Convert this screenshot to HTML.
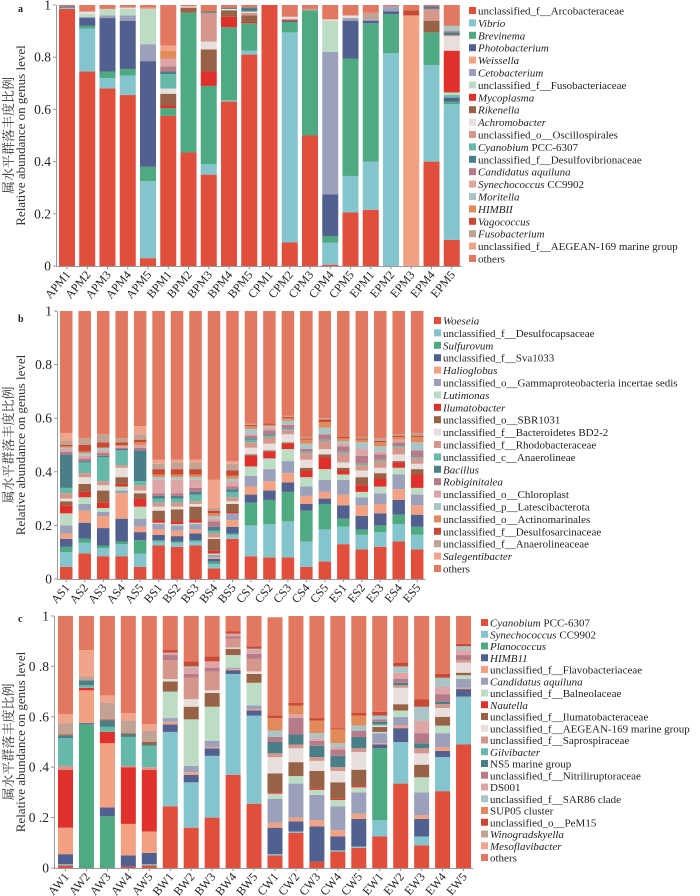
<!DOCTYPE html>
<html><head><meta charset="utf-8"><style>
html,body{margin:0;padding:0;background:#fff;}
svg{display:block;font-family:"Liberation Serif","Noto Serif CJK SC",serif;}
</style></head><body>
<svg id="chart" width="700" height="896" viewBox="0 0 700 896" xmlns="http://www.w3.org/2000/svg"></svg>
<script>
const colors=["#e14e3c","#84c4cc","#4faa82","#52608f","#f2a283","#9ca1bb","#bcdcc4","#e0302c","#976246","#e6dfdc","#d5978b","#66b9a8","#4b7f87","#b67a88","#dda5a5","#a9c5c5","#e38a5a","#c84a34","#c2a292","#f1a48c","#e27860"];
const catsA=["APM1","APM2","APM3","APM4","APM5","BPM1","BPM2","BPM3","BPM4","BPM5","CPM1","CPM2","CPM3","CPM4","CPM5","EPM1","EPM2","EPM3","EPM4","EPM5"];
const catsB=["AS1","AS2","AS3","AS4","AS5","BS1","BS2","BS3","BS4","BS5","CS1","CS2","CS3","CS4","CS5","ES1","ES2","ES3","ES4","ES5"];
const catsC=["AW1","AW2","AW3","AW4","AW5","BW1","BW2","BW3","BW4","BW5","CW1","CW2","CW3","CW4","CW5","EW1","EW2","EW3","EW4","EW5"];
const legendA=["unclassified_f__Arcobacteraceae","<i>Vibrio</i>","<i>Brevinema</i>","<i>Photobacterium</i>","<i>Weissella</i>","<i>Cetobacterium</i>","unclassified_f__Fusobacteriaceae","<i>Mycoplasma</i>","<i>Rikenella</i>","<i>Achromobacter</i>","unclassified_o__Oscillospirales","<i>Cyanobium</i> PCC-6307","unclassified_f__Desulfovibrionaceae","<i>Candidatus aquiluna</i>","<i>Synechococcus</i> CC9902","<i>Moritella</i>","<i>HIMBII</i>","<i>Vagococcus</i>","<i>Fusobacterium</i>","unclassified_f__AEGEAN-169 marine group","others"];
const legendB=["<i>Woeseia</i>","unclassified_f__Desulfocapsaceae","<i>Sulfurovum</i>","unclassified_f__Sva1033","<i>Halioglobus</i>","unclassified_o__Gammaproteobacteria incertae sedis","<i>Lutimonas</i>","<i>Ilumatobacter</i>","unclassified_o__SBR1031","unclassified_f__Bacteroidetes BD2-2","unclassified_f__Rhodobacteraceae","unclassified_c__Anaerolineae","<i>Bacillus</i>","<i>Robiginitalea</i>","unclassified_o__Chloroplast","unclassified_p__Latescibacterota","unclassified_o__Actinomarinales","unclassified_f__Desulfosarcinaceae","unclassified_f__Anaerolineaceae","<i>Salegentibacter</i>","others"];
const legendC=["<i>Cyanobium</i> PCC-6307","<i>Synechococcus</i> CC9902","<i>Planococcus</i>","<i>HIMB11</i>","unclassified_f__Flavobacteriaceae","<i>Candidatus aquiluna</i>","unclassified_f__Balneolaceae","<i>Nautella</i>","unclassified_f__Ilumatobacteraceae","unclassified_f__AEGEAN-169 marine group","unclassified_f__Saprospiraceae","<i>Gilvibacter</i>","NS5 marine group","unclassified_f__Nitriliruptoraceae","DS001","unclassified_f__SAR86 clade","SUP05 cluster","unclassified_o__PeM15","<i>Winogradskyella</i>","<i>Mesoflavibacter</i>","others"];
const ticksAB=["0","0.2","0.4","0.6","0.8","1"];
const ticksC=["0","0 .2","0 .4","0 .6","0 .8","1"];
// per-bar segments: [seriesIndex, value]
const barsA=[
[[0,.985],[1,.005],[3,.005],[20,.005]],
[[0,.745],[1,.165],[2,.01],[3,.03],[5,.005],[6,.01],[9,.01],[20,.025]],
[[0,.68],[1,.04],[2,.025],[3,.205],[5,.01],[6,.025],[20,.015]],
[[0,.655],[1,.075],[2,.025],[3,.185],[5,.02],[6,.025],[9,.005],[20,.01]],
[[0,.03],[1,.295],[2,.055],[3,.405],[5,.065],[6,.135],[4,.005],[20,.01]],
[[0,.575],[2,.03],[7,.01],[8,.045],[9,.02],[11,.055],[12,.01],[13,.02],[14,.03],[16,.03],[19,.02],[20,.155]],
[[0,.435],[2,.535],[8,.02],[9,.005],[20,.005]],
[[0,.35],[1,.04],[2,.3],[7,.055],[8,.085],[9,.03],[10,.11],[12,.005],[20,.025]],
[[0,.63],[1,.005],[2,.28],[7,.04],[8,.025],[9,.005],[12,.005],[20,.01]],
[[0,.81],[1,.015],[2,.105],[7,.005],[8,.025],[10,.01],[9,.005],[12,.015],[20,.01]],
[[0,1]],
[[0,.09],[1,.805],[2,.04],[3,.005],[7,.005],[9,.01],[20,.045]],
[[0,.5],[2,.48],[10,.005],[20,.015]],
[[0,.005],[1,.085],[2,.025],[3,.16],[5,.545],[6,.12],[9,.005],[20,.055]],
[[0,.205],[1,.14],[2,.45],[3,.145],[5,.01],[9,.01],[20,.04]],
[[0,.215],[1,.185],[2,.53],[3,.01],[5,.005],[18,.025],[20,.03]],
[[1,.815],[2,.15],[3,.01],[5,.02],[20,.005]],
[[4,.96],[17,.02],[20,.02]],
[[0,.4],[1,.37],[2,.125],[8,.045],[10,.045],[12,.005],[3,.005],[20,.005]],
[[0,.1],[1,.52],[2,.01],[3,.015],[11,.01],[6,.01],[7,.16],[9,.055],[10,.005],[12,.01],[13,.005],[15,.02],[20,.08]]];
const barsB=[
[[0,.045],[1,.055],[2,.02],[3,.03],[4,.02],[5,.03],[6,.045],[7,.03],[8,.015],[9,.01],[10,.02],[11,.02],[12,.125],[13,.01],[14,.01],[15,.005],[16,.005],[17,.005],[18,.015],[19,.03],[20,.455]],
[[0,.095],[1,.04],[2,.015],[3,.06],[4,.045],[5,.025],[6,.025],[7,.02],[8,.03],[9,.025],[10,.015],[11,.04],[12,.005],[13,.01],[14,.01],[15,.01],[16,.005],[17,.025],[18,.025],[20,.475]],
[[0,.085],[1,.03],[2,.01],[3,.065],[4,.045],[5,.015],[6,.015],[7,.02],[8,.045],[9,.02],[10,.015],[11,.09],[12,.005],[13,.01],[14,.01],[15,.01],[17,.02],[18,.03],[20,.46]],
[[0,.085],[1,.045],[2,.01],[3,.085],[4,.095],[5,.01],[6,.015],[7,.01],[8,.025],[9,.035],[10,.01],[11,.055],[12,.005],[13,.005],[14,.005],[16,.005],[17,.01],[18,.015],[20,.475]],
[[0,.045],[1,.05],[2,.05],[3,.03],[4,.02],[5,.03],[6,.045],[7,.03],[8,.02],[9,.01],[10,.02],[11,.015],[12,.115],[13,.01],[14,.01],[16,.01],[17,.01],[18,.02],[19,.03],[20,.43]],
[[0,.125],[1,.015],[2,.005],[3,.02],[4,.02],[5,.02],[6,.005],[7,.01],[8,.035],[9,.015],[10,.015],[11,.015],[12,.01],[13,.01],[14,.05],[15,.01],[16,.01],[17,.02],[18,.02],[19,.015],[20,.555]],
[[0,.12],[1,.015],[2,.005],[3,.02],[4,.02],[5,.02],[6,.005],[7,.01],[8,.045],[9,.01],[10,.015],[11,.015],[12,.01],[13,.01],[14,.05],[15,.01],[16,.01],[17,.02],[18,.025],[19,.01],[20,.555]],
[[0,.125],[1,.015],[2,.005],[3,.025],[4,.015],[5,.02],[6,.005],[7,.01],[8,.05],[9,.01],[10,.01],[11,.025],[12,.01],[13,.015],[14,.03],[15,.01],[16,.01],[17,.02],[18,.025],[19,.01],[20,.555]],
[[0,.04],[1,.015],[2,.01],[3,.01],[4,.005],[5,.01],[6,.005],[7,.01],[8,.045],[9,.005],[10,.015],[11,.01],[12,.015],[13,.02],[14,.01],[15,.01],[16,.01],[17,.01],[18,.01],[19,.105],[20,.63]],
[[0,.15],[1,.015],[2,.005],[3,.025],[4,.025],[5,.025],[7,.005],[8,.03],[9,.01],[10,.015],[11,.02],[12,.01],[13,.01],[14,.02],[15,.01],[16,.01],[17,.02],[18,.025],[19,.01],[20,.56]],
[[0,.085],[1,.115],[2,.085],[3,.03],[4,.03],[5,.04],[6,.035],[7,.04],[8,.005],[9,.025],[10,.02],[11,.01],[12,.005],[13,.01],[14,.005],[15,.02],[16,.01],[17,.005],[18,.005],[20,.42]],
[[0,.08],[1,.125],[2,.09],[3,.035],[4,.035],[5,.045],[6,.04],[7,.025],[8,.005],[9,.025],[10,.025],[11,.005],[12,.005],[13,.015],[14,.01],[15,.005],[16,.005],[17,.005],[20,.42]],
[[0,.08],[1,.135],[2,.11],[3,.035],[4,.035],[5,.045],[6,.045],[7,.02],[8,.005],[9,.03],[10,.015],[11,.005],[13,.015],[15,.015],[16,.01],[17,.005],[18,.005],[20,.39]],
[[0,.045],[1,.095],[2,.115],[3,.025],[4,.03],[5,.035],[6,.035],[7,.025],[8,.01],[9,.03],[10,.025],[11,.005],[13,.01],[15,.02],[16,.015],[17,.005],[18,.005],[20,.47]],
[[0,.065],[1,.12],[2,.095],[3,.02],[4,.025],[5,.045],[6,.04],[7,.045],[8,.01],[9,.02],[10,.03],[11,.005],[13,.02],[15,.025],[16,.02],[17,.01],[18,.005],[20,.4]],
[[0,.13],[1,.065],[2,.03],[3,.05],[4,.04],[5,.055],[6,.02],[7,.015],[8,.01],[9,.02],[10,.035],[11,.005],[13,.02],[14,.01],[15,.01],[16,.01],[17,.005],[20,.47]],
[[0,.11],[1,.055],[2,.02],[3,.05],[4,.04],[5,.03],[6,.02],[7,.025],[8,.03],[9,.025],[10,.02],[11,.005],[13,.03],[14,.025],[15,.025],[16,.01],[17,.005],[18,.005],[20,.47]],
[[0,.12],[1,.055],[2,.025],[3,.045],[4,.035],[5,.04],[6,.025],[7,.03],[8,.02],[9,.02],[10,.025],[11,.005],[13,.02],[14,.01],[15,.02],[16,.015],[17,.005],[18,.01],[20,.475]],
[[0,.14],[1,.065],[2,.035],[3,.055],[4,.04],[5,.055],[6,.025],[7,.02],[8,.005],[9,.025],[10,.025],[11,.005],[13,.015],[14,.01],[16,.01],[17,.005],[18,.005],[20,.46]],
[[0,.11],[1,.055],[2,.03],[3,.045],[4,.035],[5,.04],[6,.025],[7,.05],[8,.02],[9,.02],[10,.02],[11,.005],[13,.025],[15,.03],[16,.02],[17,.005],[18,.01],[20,.455]]];
const barsC=[
[[0,.01],[1,.005],[3,.04],[4,.105],[7,.23],[10,.015],[11,.11],[12,.01],[8,.005],[18,.045],[19,.035],[20,.39]],
[[2,.57],[3,.005],[4,.13],[7,.01],[11,.01],[12,.02],[18,.015],[19,.105],[20,.135]],
[[2,.205],[3,.035],[4,.255],[7,.045],[11,.02],[12,.025],[8,.005],[10,.005],[18,.06],[19,.03],[20,.315]],
[[0,.005],[3,.045],[4,.125],[7,.225],[10,.005],[11,.115],[12,.01],[8,.005],[18,.05],[19,.03],[20,.385]],
[[0,.01],[1,.005],[3,.045],[4,.085],[7,.245],[10,.01],[11,.085],[12,.005],[8,.01],[18,.045],[19,.025],[20,.43]],
[[0,.245],[1,.295],[3,.03],[4,.01],[5,.015],[6,.105],[8,.04],[9,.01],[10,.075],[13,.02],[14,.01],[17,.01],[20,.135]],
[[0,.16],[1,.18],[3,.03],[4,.01],[5,.025],[6,.185],[8,.05],[9,.03],[10,.085],[13,.015],[14,.025],[15,.005],[17,.02],[20,.18]],
[[0,.2],[1,.245],[3,.03],[4,.005],[5,.025],[6,.135],[8,.055],[9,.01],[10,.075],[13,.015],[14,.025],[17,.02],[20,.16]],
[[0,.37],[1,.4],[3,.015],[4,.005],[5,.005],[6,.05],[8,.025],[9,.005],[10,.035],[13,.01],[14,.01],[17,.01],[20,.06]],
[[0,.255],[1,.35],[3,.02],[4,.005],[5,.015],[6,.09],[8,.035],[9,.01],[10,.05],[13,.02],[14,.015],[15,.005],[17,.01],[20,.12]],
[[0,.05],[1,.005],[3,.105],[4,.02],[5,.095],[6,.02],[7,.005],[8,.075],[9,.065],[10,.015],[12,.045],[13,.02],[15,.025],[16,.05],[17,.01],[20,.39]],
[[0,.14],[1,.005],[3,.04],[4,.015],[5,.135],[6,.03],[8,.055],[9,.055],[10,.015],[12,.04],[13,.065],[14,.015],[16,.035],[17,.01],[20,.345]],
[[0,.025],[3,.14],[4,.025],[5,.1],[6,.02],[7,.005],[8,.07],[9,.04],[10,.015],[12,.045],[13,.02],[14,.01],[15,.02],[16,.05],[17,.01],[20,.405]],
[[0,.065],[1,.005],[3,.055],[4,.025],[5,.095],[6,.025],[7,.005],[8,.065],[9,.045],[10,.015],[12,.045],[13,.025],[14,.01],[15,.015],[16,.055],[17,.005],[20,.445]],
[[0,.08],[1,.005],[3,.11],[4,.02],[5,.085],[6,.02],[7,.005],[8,.065],[9,.07],[10,.015],[12,.045],[13,.025],[15,.02],[16,.04],[17,.01],[20,.385]],
[[0,.125],[1,.065],[2,.285],[3,.015],[4,.005],[5,.04],[6,.005],[8,.02],[9,.005],[11,.005],[12,.01],[13,.01],[15,.015],[17,.015],[20,.38]],
[[0,.335],[1,.165],[3,.055],[4,.01],[5,.035],[6,.025],[8,.025],[9,.065],[10,.01],[12,.01],[13,.015],[14,.025],[15,.025],[17,.015],[20,.185]],
[[0,.09],[1,.035],[3,.07],[4,.015],[5,.09],[6,.06],[8,.05],[9,.045],[10,.02],[12,.02],[13,.04],[14,.05],[15,.055],[17,.03],[20,.33]],
[[0,.305],[1,.135],[3,.025],[4,.015],[5,.055],[6,.03],[8,.035],[9,.035],[10,.015],[12,.01],[13,.03],[14,.03],[15,.035],[17,.015],[20,.23]],
[[0,.49],[1,.19],[3,.03],[4,.005],[5,.035],[6,.015],[8,.01],[9,.04],[10,.01],[13,.02],[14,.02],[15,.015],[17,.01],[20,.11]]];

const NS="http://www.w3.org/2000/svg";
const svg=document.getElementById('chart');
function mk(tag,attrs,parent){const e=document.createElementNS(NS,tag);for(const k in attrs)e.setAttribute(k,attrs[k]);(parent||svg).appendChild(e);return e;}

function panel(p){
  const g=mk('g',{});
  
  
  const ys=v=>p.y0-(p.y0-p.y1)*v;
  p.bars.forEach((segs,i)=>{
    const x=p.bx+i*p.pitch;
    let acc=0;
    segs.forEach(s=>{
      const r=mk('rect',{x:x,y:ys(acc+s[1]),width:p.bw,height:Math.max(0,ys(acc)-ys(acc+s[1])),fill:colors[s[0]]},g);
      
      
      acc+=s[1];
    });
    const t=mk('text',{x:x+p.bw/2+4,y:p.y0+9,'text-anchor':'end','font-size':12,fill:'#222',transform:`rotate(-50 ${x+p.bw/2+4} ${p.y0+9})`},g);
    t.textContent=p.cats[i];
    
    
    mk('line',{x1:x+p.bw/2,x2:x+p.bw/2,y1:p.y0,y2:p.y0+3,stroke:'#888','stroke-width':1},g);
  });
  const lastX=p.bx+(p.bars.length-1)*p.pitch+p.bw+2;
  const xa=mk('line',{x1:p.ax,x2:lastX,y1:p.y0+.5,y2:p.y0+.5,stroke:'#999','stroke-width':1},g);
  
  
  const ya=mk('line',{x1:p.ax+.5,x2:p.ax+.5,y1:p.y1,y2:p.y0,stroke:'#999','stroke-width':1},g);
  
  
  p.ticks.forEach((lab,k)=>{
    const y=ys(k/5);
    mk('line',{x1:p.ax-3,x2:p.ax,y1:y,y2:y,stroke:'#999'},g);
    const t=mk('text',{x:p.ax-5,y:y+4.5,'text-anchor':'end','font-size':13.5,fill:'#222'},g);
    t.textContent=lab;
    
    
  });
  const cy=(p.y0+p.y1)/2;
  const t1=mk('text',{x:13,y:cy,'text-anchor':'middle','font-size':13,fill:'#333',transform:`rotate(-90 13 ${cy})`},g);
  t1.textContent='属水平群落丰度比例';
  
  
  const t2=mk('text',{x:25,y:cy,'text-anchor':'middle','font-size':13,fill:'#333',transform:`rotate(-90 25 ${cy})`},g);
  t2.textContent='Relative abundance on genus level';
  
  
  const pl=mk('text',{x:p.lx,y:p.ly,'font-size':10,'font-weight':'bold',fill:'#222'},g);
  pl.textContent=p.id;
  
  
  p.legend.forEach((lab,k)=>{
    const y=p.legY+k*p.legDy;
    const sw=mk('rect',{x:p.legX,y:y-4,width:7,height:7,fill:colors[k]},g);
    
    
    const t=mk('text',{x:p.legX+9,y:y+3.5,'font-size':11,fill:'#222'},g);
    t.innerHTML=lab.replace(/<i>/g,'<tspan font-style="italic">').replace(/<\/i>/g,'</tspan>');
    
    
  });
}
panel({id:'a',cats:catsA,bars:barsA,ticks:ticksAB,y0:266,y1:5,bx:59,pitch:20.25,bw:16,ax:56,lx:18,ly:12,legend:legendA,legX:469,legY:11,legDy:12.4});
panel({id:'b',cats:catsB,bars:barsB,ticks:ticksAB,y0:579,y1:311,bx:60,pitch:18.47,bw:12.5,ax:57,lx:18,ly:322,legend:legendB,legX:434,legY:321,legDy:12.4});
panel({id:'c',cats:catsC,bars:barsC,ticks:ticksC,y0:868,y1:616,bx:58,pitch:20.95,bw:15,ax:54,lx:18,ly:622,legend:legendC,legX:481,legY:623,legDy:11.75});
</script>
</body></html>
